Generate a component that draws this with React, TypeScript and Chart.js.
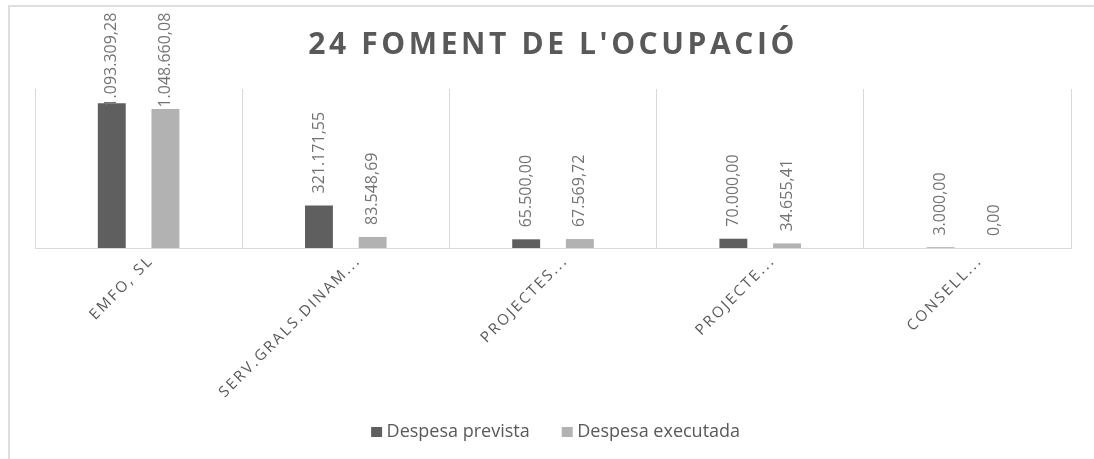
import React, { useEffect, useRef } from "react";
import { Chart, registerables } from "chart.js";

Chart.register(...registerables);

const chartTitle = "24 FOMENT DE L'OCUPACIÓ";
const categories = ["EMFO, SL", "SERV.GRALS.DINAM...", "PROJECTES...", "PROJECTE...", "CONSELL..."];
const seriesLabels = ["Despesa prevista", "Despesa executada"];
const despesaPrevista = [1093309.28, 321171.55, 65500.0, 70000.0, 3000.0];
const despesaExecutada = [1048660.08, 83548.69, 67569.72, 34655.41, 0.0];
const yAxisMax = 1200000;
const seriesColors = ["#5f5f5f", "#b2b2b2"];

const FONT = "'Open Sans', 'Noto Sans', sans-serif";
const TEXT_COLOR = "#595959";

function formatCa(v: number): string {
  const [intPart, dec] = v.toFixed(2).split(".");
  return intPart.replace(/\B(?=(\d{3})+(?!\d))/g, ".") + "," + dec;
}

function drawSpaced(
  ctx: CanvasRenderingContext2D,
  text: string,
  x: number,
  y: number,
  spacing: number,
  align: "left" | "center" | "right"
): number {
  (ctx as any).letterSpacing = "0px";
  const w0 = ctx.measureText(text).width;
  const n = Array.from(text).length;
  const w = w0 + (n - 1) * spacing;
  (ctx as any).letterSpacing = spacing + "px";
  ctx.textAlign = "left";
  const sx = align === "left" ? x : align === "center" ? x - w / 2 : x - w;
  ctx.fillText(text, sx, y);
  (ctx as any).letterSpacing = "0px";
  return w;
}

const decorPlugin = {
  id: "decor",
  afterDatasetsDraw(chart: any) {
    const ctx: CanvasRenderingContext2D = chart.ctx;
    chart.data.datasets.forEach((ds: any, di: number) => {
      const meta = chart.getDatasetMeta(di);
      meta.data.forEach((bar: any, i: number) => {
        const { x, y } = bar.getProps(["x", "y"], true);
        const text = formatCa(ds.data[i]);
        ctx.save();
        ctx.font = `16px ${FONT}`;
        const w = ctx.measureText(text).width;
        const y0 = Math.max(y - 12, 12.7 + w);
        ctx.translate(x, y0);
        ctx.rotate(-Math.PI / 2);
        ctx.fillStyle = "#737373";
        ctx.textAlign = "left";
        ctx.textBaseline = "middle";
        ctx.fillText(text, 0, 0);
        ctx.restore();
      });
    });
  },
  afterDraw(chart: any) {
    const ctx: CanvasRenderingContext2D = chart.ctx;
    // Title
    ctx.save();
    ctx.font = `bold 30px ${FONT}`;
    ctx.fillStyle = TEXT_COLOR;
    ctx.textBaseline = "alphabetic";
    drawSpaced(ctx, chartTitle, 551.4, 54, 3.6, "center");
    ctx.restore();

    // X axis labels
    const xScale = chart.scales.x;
    chart.data.labels.forEach((label: string, i: number) => {
      const c = xScale.getPixelForValue(i);
      ctx.save();
      ctx.font = `15px ${FONT}`;
      ctx.fillStyle = TEXT_COLOR;
      ctx.textBaseline = "alphabetic";
      ctx.translate(c + 14, 263);
      ctx.rotate(-Math.PI / 4);
      drawSpaced(ctx, label, 0, 0, 2.3, "right");
      ctx.restore();
    });

    // Legend
    ctx.save();
    ctx.font = `18px ${FONT}`;
    const box = 11;
    const gapText = 4.5;
    const gapItem = 32;
    const widths = chart.data.datasets.map((ds: any) => ctx.measureText(ds.label).width);
    const total =
      widths.reduce((a: number, b: number) => a + b, 0) +
      widths.length * (box + gapText) +
      gapItem * (widths.length - 1);
    let lx = 555.6 - total / 2;
    chart.data.datasets.forEach((ds: any, di: number) => {
      ctx.fillStyle = ds.backgroundColor;
      ctx.fillRect(lx, 427, box, 10);
      ctx.fillStyle = TEXT_COLOR;
      ctx.textAlign = "left";
      ctx.textBaseline = "alphabetic";
      ctx.fillText(ds.label, lx + box + gapText, 437.3);
      lx += box + gapText + widths[di] + gapItem;
    });
    ctx.restore();
  },
};

export default function App() {
  const canvasRef = useRef<HTMLCanvasElement | null>(null);

  useEffect(() => {
    if (!canvasRef.current) return;
    const chart = new Chart(canvasRef.current, {
      type: "bar",
      data: {
        labels: categories,
        datasets: [
          {
            label: seriesLabels[0],
            data: despesaPrevista,
            backgroundColor: seriesColors[0],
            categoryPercentage: 0.518,
            barPercentage: 0.52,
          },
          {
            label: seriesLabels[1],
            data: despesaExecutada,
            backgroundColor: seriesColors[1],
            categoryPercentage: 0.518,
            barPercentage: 0.52,
          },
        ],
      },
      options: {
        responsive: false,
        animation: false,
        devicePixelRatio: 1,
        layout: { padding: { left: 35, right: 23, top: 89, bottom: 211 } },
        plugins: {
          legend: { display: false },
          title: { display: false },
          tooltip: { enabled: false },
        },
        scales: {
          x: {
            grid: { color: "#d9d9d9", lineWidth: 1, drawTicks: false, offset: true },
            border: { color: "#d9d9d9", width: 1 },
            ticks: { display: false },
            afterFit: (s: any) => {
              s.height = 0;
            },
          },
          y: { display: false, min: 0, max: yAxisMax },
        },
      },
      plugins: [decorPlugin],
    } as any);
    let alive = true;
    if ((document as any).fonts && (document as any).fonts.ready) {
      (document as any).fonts.ready.then(() => {
        if (alive) chart.draw();
      });
    }
    return () => {
      alive = false;
      chart.destroy();
    };
  }, []);

  return (
    <div style={{ position: "fixed", left: 0, top: 0, width: 1094, height: 459, overflow: "hidden", background: "#ffffff" }}>
      <div
        style={{
          position: "absolute",
          left: 8,
          top: 5,
          width: 1200,
          height: 600,
          border: "2px solid #dedede",
          boxSizing: "border-box",
        }}
      />
      <canvas
        ref={canvasRef}
        width={1094}
        height={459}
        style={{ position: "absolute", left: 0, top: 0, width: 1094, height: 459 }}
      />
    </div>
  );
}
